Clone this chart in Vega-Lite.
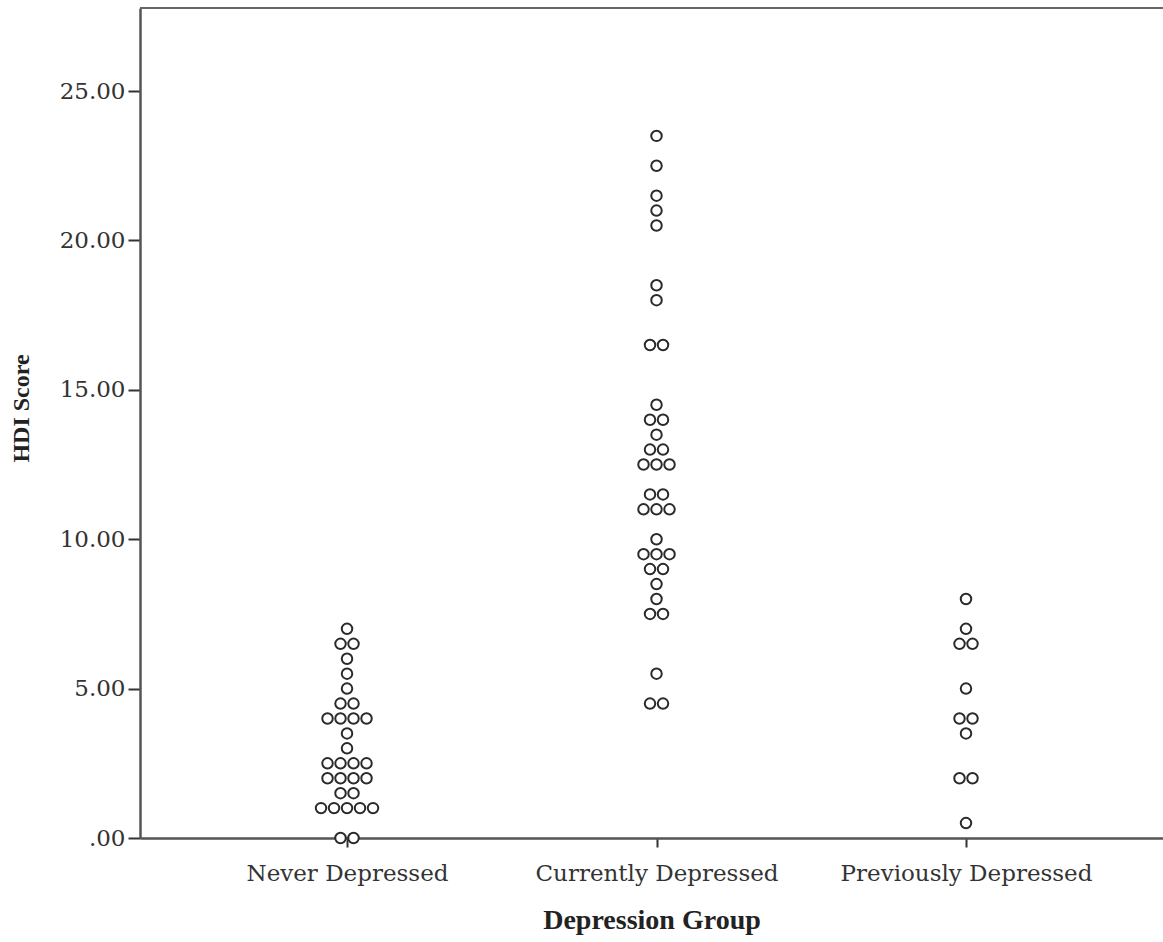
{
  "$schema": "https://vega.github.io/schema/vega-lite/v6.json",
  "autosize": {"type": "none"},
  "padding": {"left": 140, "top": 8, "right": 0, "bottom": 104},
  "width": 1023,
  "height": 830,
  "background": "white",
  "config": {"view": {"stroke": null}},
  "data": {"values": [
    {"group": "Never Depressed", "score": 7},
    {"group": "Never Depressed", "score": 6.5},
    {"group": "Never Depressed", "score": 6.5},
    {"group": "Never Depressed", "score": 6},
    {"group": "Never Depressed", "score": 5.5},
    {"group": "Never Depressed", "score": 5},
    {"group": "Never Depressed", "score": 4.5},
    {"group": "Never Depressed", "score": 4.5},
    {"group": "Never Depressed", "score": 4},
    {"group": "Never Depressed", "score": 4},
    {"group": "Never Depressed", "score": 4},
    {"group": "Never Depressed", "score": 4},
    {"group": "Never Depressed", "score": 3.5},
    {"group": "Never Depressed", "score": 3},
    {"group": "Never Depressed", "score": 2.5},
    {"group": "Never Depressed", "score": 2.5},
    {"group": "Never Depressed", "score": 2.5},
    {"group": "Never Depressed", "score": 2.5},
    {"group": "Never Depressed", "score": 2},
    {"group": "Never Depressed", "score": 2},
    {"group": "Never Depressed", "score": 2},
    {"group": "Never Depressed", "score": 2},
    {"group": "Never Depressed", "score": 1.5},
    {"group": "Never Depressed", "score": 1.5},
    {"group": "Never Depressed", "score": 1},
    {"group": "Never Depressed", "score": 1},
    {"group": "Never Depressed", "score": 1},
    {"group": "Never Depressed", "score": 1},
    {"group": "Never Depressed", "score": 1},
    {"group": "Never Depressed", "score": 0},
    {"group": "Never Depressed", "score": 0},
    {"group": "Currently Depressed", "score": 23.5},
    {"group": "Currently Depressed", "score": 22.5},
    {"group": "Currently Depressed", "score": 21.5},
    {"group": "Currently Depressed", "score": 21},
    {"group": "Currently Depressed", "score": 20.5},
    {"group": "Currently Depressed", "score": 18.5},
    {"group": "Currently Depressed", "score": 18},
    {"group": "Currently Depressed", "score": 16.5},
    {"group": "Currently Depressed", "score": 16.5},
    {"group": "Currently Depressed", "score": 14.5},
    {"group": "Currently Depressed", "score": 14},
    {"group": "Currently Depressed", "score": 14},
    {"group": "Currently Depressed", "score": 13.5},
    {"group": "Currently Depressed", "score": 13},
    {"group": "Currently Depressed", "score": 13},
    {"group": "Currently Depressed", "score": 12.5},
    {"group": "Currently Depressed", "score": 12.5},
    {"group": "Currently Depressed", "score": 12.5},
    {"group": "Currently Depressed", "score": 11.5},
    {"group": "Currently Depressed", "score": 11.5},
    {"group": "Currently Depressed", "score": 11},
    {"group": "Currently Depressed", "score": 11},
    {"group": "Currently Depressed", "score": 11},
    {"group": "Currently Depressed", "score": 10},
    {"group": "Currently Depressed", "score": 9.5},
    {"group": "Currently Depressed", "score": 9.5},
    {"group": "Currently Depressed", "score": 9.5},
    {"group": "Currently Depressed", "score": 9},
    {"group": "Currently Depressed", "score": 9},
    {"group": "Currently Depressed", "score": 8.5},
    {"group": "Currently Depressed", "score": 8},
    {"group": "Currently Depressed", "score": 7.5},
    {"group": "Currently Depressed", "score": 7.5},
    {"group": "Currently Depressed", "score": 5.5},
    {"group": "Currently Depressed", "score": 4.5},
    {"group": "Currently Depressed", "score": 4.5},
    {"group": "Previously Depressed", "score": 8},
    {"group": "Previously Depressed", "score": 7},
    {"group": "Previously Depressed", "score": 6.5},
    {"group": "Previously Depressed", "score": 6.5},
    {"group": "Previously Depressed", "score": 5},
    {"group": "Previously Depressed", "score": 4},
    {"group": "Previously Depressed", "score": 4},
    {"group": "Previously Depressed", "score": 3.5},
    {"group": "Previously Depressed", "score": 2},
    {"group": "Previously Depressed", "score": 2},
    {"group": "Previously Depressed", "score": 0.5}
  ]},
  "layer": [
    {
      "mark": {"type": "rule", "color": "#666666", "strokeWidth": 2},
      "encoding": {"y": {"datum": 27.78, "type": "quantitative"}}
    },
    {
      "transform": [
        {"window": [{"op": "row_number", "as": "k"}, {"op": "count", "as": "n"}], "groupby": ["group", "score"], "frame": [null, null]},
        {"calculate": "datum.k - (datum.n + 1) / 2", "as": "off"}
      ],
      "mark": {"type": "point", "shape": "circle", "filled": false, "fill": "white", "fillOpacity": 1, "stroke": "#2a2a2a", "strokeWidth": 2, "size": 110, "opacity": 1},
      "encoding": {
        "x": {
          "field": "group", "type": "nominal",
          "sort": ["Never Depressed", "Currently Depressed", "Previously Depressed"],
          "scale": {"type": "point", "padding": 0.6527, "align": 0.5124},
          "axis": {
            "title": "Depression Group",
            "labelAngle": 0, "labelLimit": 0,
            "labelFont": "DejaVu Serif", "labelFontSize": 23, "labelColor": "#333333", "labelPadding": 15,
            "titleFont": "Liberation Serif", "titleFontSize": 28, "titleFontWeight": "bold", "titleColor": "#222222", "titlePadding": 21,
            "domainColor": "#555555", "domainWidth": 2.5,
            "tickColor": "#333333", "tickWidth": 2, "tickSize": 9
          }
        },
        "xOffset": {"field": "off", "type": "quantitative", "scale": {"domain": [-2, 2], "range": [-26, 26]}},
        "y": {
          "field": "score", "type": "quantitative",
          "scale": {"domain": [0, 27.78], "nice": false, "zero": true},
          "axis": {
            "title": "HDI Score",
            "values": [0, 5, 10, 15, 20, 25],
            "labelExpr": "datum.value == 0 ? '.00' : format(datum.value, '.2f')",
            "grid": false,
            "labelFont": "DejaVu Serif", "labelFontSize": 23, "labelColor": "#333333", "labelPadding": 3,
            "titleFont": "Liberation Serif", "titleFontSize": 24, "titleFontWeight": "bold", "titleColor": "#222222", "titlePadding": 26,
            "titleY": 400,
            "domainColor": "#555555", "domainWidth": 2.5,
            "tickColor": "#333333", "tickWidth": 2, "tickSize": 12
          }
        }
      }
    }
  ]
}
